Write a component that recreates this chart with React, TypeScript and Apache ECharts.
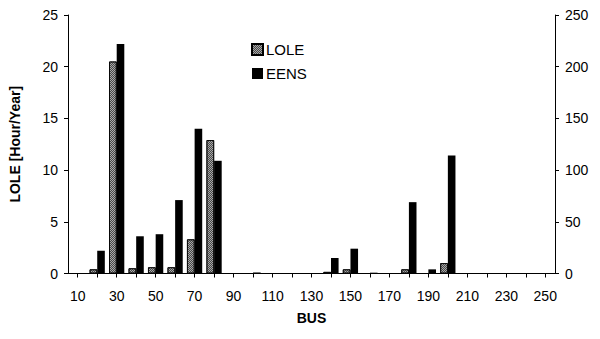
import React, { useEffect, useRef } from "react";
import * as echarts from "echarts";

const buses = ["10","20","30","40","50","60","70","80","90","100","110","120","130","140","150","160","170","180","190","200","210","220","230","240","250"];
const loleValues = [0, 0.4, 20.5, 0.5, 0.6, 0.6, 3.3, 12.9, 0, 0, 0, 0, 0, 0.15, 0.4, 0, 0, 0.4, 0, 1.0, 0, 0, 0, 0, 0];
const eensValues = [0, 22, 222, 36, 38, 71, 140, 109, 0, 1, 0, 0, 0, 15, 24, 0.8, 0, 69, 4, 114, 0.5, 0, 0, 0, 0];
const leftTicks = { min: 0, max: 25, interval: 5 };
const rightTicks = { min: 0, max: 250, interval: 50 };

const FONT = "Liberation Sans, Arial, sans-serif";

export default function App() {
  const ref = useRef<HTMLDivElement>(null);
  useEffect(() => {
    if (!ref.current) return;
    const chart = echarts.init(ref.current, undefined, { renderer: "svg" });
    const axisLine = { show: true, lineStyle: { color: "#000", width: 1 } };
    chart.setOption({
      animation: false,
      backgroundColor: "#fff",
      aria: { enabled: true, decal: { show: true } },
      textStyle: { fontFamily: FONT },
      grid: { left: 68, right: 45, top: 15, bottom: 65.5 },
      legend: {
        orient: "vertical",
        left: 246,
        top: 37,
        itemWidth: 11,
        itemHeight: 11,
        itemGap: 9,
        icon: "rect",
        textStyle: { fontFamily: FONT, fontSize: 15, color: "#000", padding: [0, 0, 0, -2] },
        data: ["LOLE", "EENS"],
      },
      xAxis: {
        type: "category",
        data: buses,
        boundaryGap: true,
        name: "BUS",
        nameLocation: "middle",
        nameGap: 37,
        nameTextStyle: { fontFamily: FONT, fontSize: 14, fontWeight: "bold", color: "#000" },
        axisLine,
        axisTick: { show: true, alignWithLabel: true, interval: 0, length: 4, lineStyle: { color: "#000" } },
        axisLabel: { interval: 1, fontFamily: FONT, fontSize: 14, color: "#000", margin: 15 },
        splitLine: { show: false },
      },
      yAxis: [
        {
          type: "value",
          ...leftTicks,
          name: "LOLE [Hour/Year]",
          nameLocation: "middle",
          nameGap: 46,
          nameTextStyle: { fontFamily: FONT, fontSize: 14, fontWeight: "bold", color: "#000" },
          axisLine,
          axisTick: { show: true, length: 4, lineStyle: { color: "#000" } },
          axisLabel: { fontFamily: FONT, fontSize: 14, color: "#000", margin: 10 },
          splitLine: { show: false },
        },
        {
          type: "value",
          ...rightTicks,
          position: "right",
          axisLine,
          axisTick: { show: true, length: 4, lineStyle: { color: "#000" } },
          axisLabel: { fontFamily: FONT, fontSize: 14, color: "#000", margin: 10 },
          splitLine: { show: false },
        },
      ],
      series: [
        {
          name: "LOLE",
          type: "bar",
          yAxisIndex: 0,
          data: loleValues,
          barGap: "0%",
          barCategoryGap: "22%",
          itemStyle: {
            color: "#a8a8a8",
            borderColor: "#000",
            borderWidth: 0.8,
            decal: {
              symbol: "rect",
              symbolSize: 1,
              color: "rgba(40,40,40,0.75)",
              dashArrayX: [[1, 1], [0, 1, 1, 0]],
              dashArrayY: [1, 0],
              rotation: 0,
            },
          },
        },
        {
          name: "EENS",
          type: "bar",
          yAxisIndex: 1,
          data: eensValues,
          itemStyle: { color: "#000", decal: { symbol: "none" } },
        },
      ],
    });
    return () => chart.dispose();
  }, []);
  return <div ref={ref} style={{ width: 600, height: 339, position: "absolute", left: 0, top: 0 }} />;
}
